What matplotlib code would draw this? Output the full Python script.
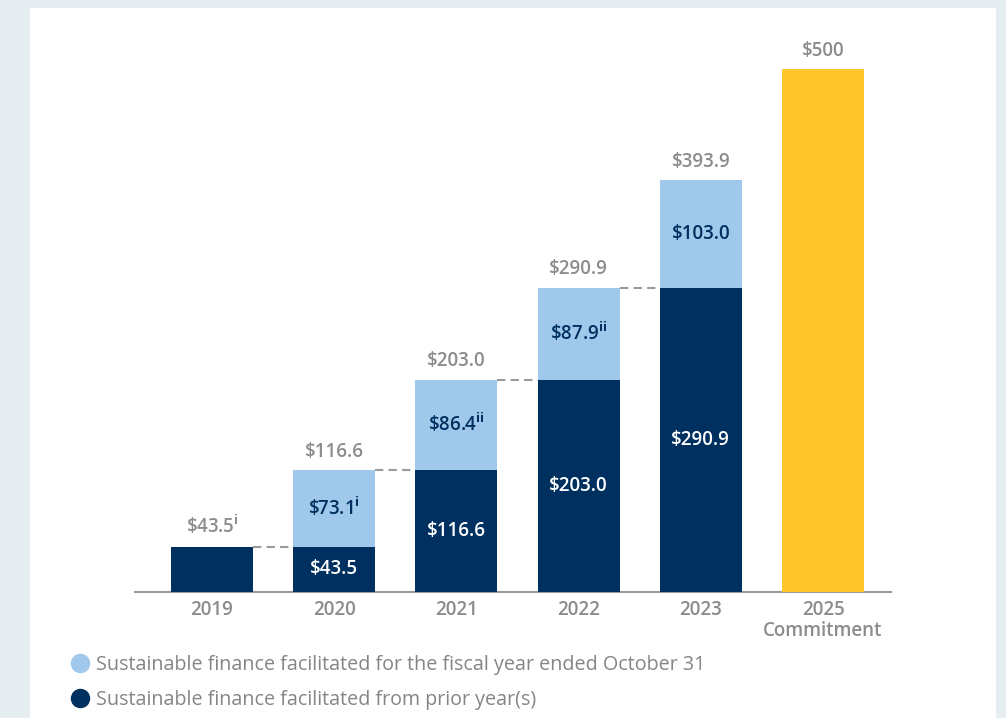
import numpy as np
import matplotlib.pyplot as plt
from matplotlib.patches import Rectangle
from matplotlib.lines import Line2D

plt.rcParams['font.family'] = ['Open Sans', 'DejaVu Sans']
plt.rcParams['mathtext.fontset'] = 'custom'
plt.rcParams['mathtext.rm'] = 'Open Sans'
plt.rcParams['mathtext.bf'] = 'Open Sans:bold'

# data (C$ billions)
years = ['2019', '2020', '2021', '2022', '2023', '2025\nCommitment']
prior = [43.5, 43.5, 116.6, 203.0, 290.9]
new = [0.0, 73.1, 86.4, 87.9, 103.0]
totals = [43.5, 116.6, 203.0, 290.9, 393.9]
commitment = 500
new_notes = ['', 'i', 'ii', 'ii', '']
total_notes = ['i', '', '', '', '']

navy = '#00305f'
light = '#9fc8eb'
yellow = '#ffc72c'
gray = '#8c8c8c'
fs = 13.5

fig = plt.figure(figsize=(10.06, 7.18), dpi=100)
fig.patch.set_facecolor('#e5edf1')
fig.patches.append(Rectangle((30 / 1006, 0), 966 / 1006, 710 / 718,
                             transform=fig.transFigure, facecolor='white',
                             edgecolor='none', zorder=-5))

ax = fig.add_axes([135 / 1006, 126 / 718, 756 / 1006, 572 / 718])
ax.set_zorder(2)
ax.set_facecolor('none')
x = np.arange(len(years))
w = 0.67

ax.bar(x[:5], prior, width=w, color=navy, zorder=3)
ax.bar(x[:5], new, bottom=prior, width=w, color=light, zorder=3)
ax.bar(x[5], commitment, width=w, color=yellow, zorder=3)

def lab(v, note=''):
    s = r'\$%.1f' % v
    if note:
        s += r'$^{\mathbf{%s}}$' % note
    return s

# dashed connectors
for i in range(4):
    ax.plot([x[i] + w / 2, x[i + 1] - w / 2], [totals[i], totals[i]],
            color='#9a9a9a', lw=1.5, ls=(0, (4, 2.5)), zorder=2)

for i in range(5):
    ax.annotate(lab(totals[i], total_notes[i]), (x[i], totals[i]),
                xytext=(0, 6), textcoords='offset points', ha='center',
                va='bottom', color=gray, fontsize=fs, fontweight='semibold')
    if new[i] > 0:
        ax.text(x[i], prior[i] + new[i] / 2, lab(new[i], new_notes[i]),
                ha='center', va='center', color=navy, fontsize=fs,
                fontweight='semibold', zorder=4)
        ax.text(x[i], prior[i] / 2, lab(prior[i]), ha='center',
                va='center', color='white', fontsize=fs,
                fontweight='semibold', zorder=4)
ax.annotate(r'\$%d' % commitment, (x[5], commitment), xytext=(0, 6),
            textcoords='offset points', ha='center', va='bottom',
            color=gray, fontsize=fs, fontweight='semibold')

ax.set_xlim(-0.63, 5.556)
ax.set_ylim(0, 547)
ax.set_xticks(x)
ax.set_xticklabels(years, color=gray, fontsize=fs, fontweight='semibold',
                   linespacing=1.05)
ax.tick_params(axis='x', length=0, pad=6)
ax.set_yticks([])
for s in ['top', 'right', 'left']:
    ax.spines[s].set_visible(False)
ax.spines['bottom'].set_color('#999999')
ax.spines['bottom'].set_linewidth(1.5)

handles = [Line2D([], [], marker='o', ls='none', ms=13, color=light),
           Line2D([], [], marker='o', ls='none', ms=13, color=navy)]
labels = ['Sustainable finance facilitated for the fiscal year ended October 31',
          'Sustainable finance facilitated from prior year(s)']
fig.legend(handles, labels, loc='upper left', bbox_to_anchor=(60 / 1006, 1 - 647 / 718),
           frameon=False, prop={'family': 'Open Sans', 'size': 14.2},
           handletextpad=0.2, labelspacing=0.75,
           labelcolor='#858585', borderaxespad=0, handlelength=1.2)

fig.savefig('out.png', dpi=100)
